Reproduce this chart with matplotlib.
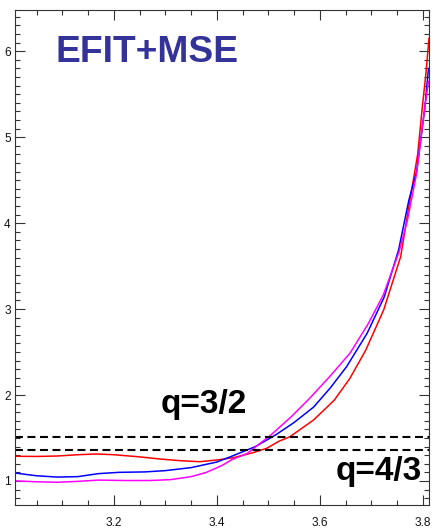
import matplotlib
matplotlib.use("Agg")
import matplotlib.pyplot as plt
from matplotlib.ticker import MultipleLocator

plt.rcParams['font.family'] = ['Liberation Sans', 'DejaVu Sans']

# q profiles versus major radius
r_red = [3.011, 3.05, 3.09, 3.13, 3.166, 3.20, 3.25, 3.29, 3.33, 3.367, 3.40,
         3.432, 3.471, 3.497, 3.52, 3.542, 3.588, 3.628, 3.658, 3.689, 3.724,
         3.757, 3.775, 3.790, 3.799, 3.806, 3.812]
q_red = [1.287, 1.285, 1.29, 1.305, 1.314, 1.305, 1.28, 1.255, 1.235, 1.224, 1.244,
         1.27, 1.33, 1.38, 1.46, 1.515, 1.71, 1.94, 2.19, 2.52, 2.99,
         3.61, 4.27, 4.80, 5.35, 5.74, 6.15]

r_blue = [3.011, 3.05, 3.09, 3.13, 3.17, 3.21, 3.26, 3.30, 3.35, 3.40, 3.43,
          3.475, 3.514, 3.55, 3.588, 3.62, 3.652, 3.692, 3.725, 3.753, 3.773,
          3.788, 3.796, 3.804, 3.811]
q_blue = [1.09, 1.06, 1.045, 1.05, 1.085, 1.10, 1.105, 1.12, 1.155, 1.22, 1.29,
          1.40, 1.535, 1.68, 1.86, 2.08, 2.33, 2.72, 3.14, 3.69, 4.27,
          4.60, 4.97, 5.35, 5.80]

r_mag = [3.011, 3.05, 3.09, 3.13, 3.17, 3.22, 3.27, 3.31, 3.35, 3.38, 3.41,
         3.43, 3.459, 3.505, 3.545, 3.58, 3.62, 3.659, 3.694, 3.723, 3.754,
         3.770, 3.788, 3.796, 3.804, 3.811]
q_mag = [1.00, 0.99, 0.985, 0.995, 1.01, 1.005, 1.005, 1.015, 1.05, 1.10, 1.18,
         1.25, 1.32, 1.535, 1.75, 1.96, 2.22, 2.49, 2.83, 3.16, 3.67,
         4.03, 4.58, 4.97, 5.35, 5.65]

# rational surfaces
q_levels = [1.515, 1.357]
q_names = ["q=3/2", "q=4/3"]

fig = plt.figure(figsize=(4.32, 5.28), dpi=100)
ax = fig.add_axes([15 / 432, 1 - 505 / 528, (429 - 15) / 432, (505 - 10) / 528])

ax.plot(r_red, q_red, color='#ff0000', lw=1.1)
ax.plot(r_blue, q_blue, color='#0000ff', lw=1.1)
ax.plot(r_mag, q_mag, color='#ff00ff', lw=1.1)

for qv in q_levels:
    ax.axhline(qv, color='black', lw=1.5, linestyle=(0, (3.8, 2.2)))

ax.set_xlim(3.008, 3.812)
ax.set_ylim(0.72, 6.48)

ax.xaxis.set_major_locator(MultipleLocator(0.2))
ax.xaxis.set_minor_locator(MultipleLocator(0.05))
ax.yaxis.set_major_locator(MultipleLocator(1))
ax.yaxis.set_minor_locator(MultipleLocator(0.1))

ax.tick_params(which='both', direction='in', top=True, right=True,
               color='#333333', width=0.8, labelsize=8.6, labelcolor='#111111')
ax.tick_params(which='major', length=7)
ax.tick_params(which='minor', length=3.5)
ax.tick_params(axis='x', pad=8.5)
ax.tick_params(axis='y', pad=3)
ax.xaxis.set_major_formatter(plt.FuncFormatter(lambda v, p: f"{v:.1f}"))
ax.yaxis.set_major_formatter(plt.FuncFormatter(lambda v, p: f"{v:.0f}"))
for s in ax.spines.values():
    s.set_color('#333333')
    s.set_linewidth(0.8)

ax.text(3.087, 5.88, "EFIT+MSE", color='#333399', fontsize=26.8,
        fontweight='bold', ha='left', va='baseline')
ax.text(3.291, 1.79, q_names[0], color='black', fontsize=24,
        fontweight='bold', ha='left', va='baseline')
ax.text(3.630, 1.01, q_names[1], color='black', fontsize=24,
        fontweight='bold', ha='left', va='baseline')

fig.savefig("out.png", dpi=100)
